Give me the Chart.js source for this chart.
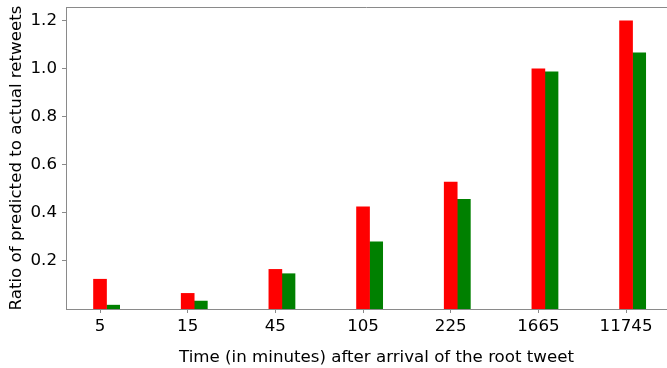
<!DOCTYPE html>
<html>
<head>
<meta charset="utf-8">
<script src="https://cdn.jsdelivr.net/npm/chart.js@4/dist/chart.umd.min.js"></script>
<style>
  html, body { margin: 0; padding: 0; background: #fff; }
  canvas { display: block; }
</style>
</head>
<body>
<canvas id="c" width="667" height="368"></canvas>
<script>
// Delay buckets (minutes after the root tweet)
const categories = ['5', '15', '45', '105', '225', '1665', '11745'];
// Ratio of predicted to actual retweets, two models
const redSeries = [0.124, 0.065, 0.165, 0.426, 0.529, 1.0, 1.2];
const greenSeries = [0.016, 0.033, 0.147, 0.280, 0.457, 0.988, 1.067];
const yTickValues = [0.2, 0.4, 0.6, 0.8, 1.0, 1.2];
const xTitle = 'Time (in minutes) after arrival of the root tweet';

const BAR_W = 0.15;          // bar width in category units
const SPINE = '#8a8a8a';
const FONT = "'DejaVu Sans', sans-serif";
const FONT_SIZE = 16.67;
// the axes run a little past the canvas' right edge
const AXES_OVERHANG = 20;

const frame = {
  id: 'frame',
  afterDraw(chart) {
    const { ctx, chartArea: a } = chart;
    ctx.save();
    // top spine
    ctx.strokeStyle = SPINE;
    ctx.lineWidth = 1;
    ctx.beginPath();
    ctx.moveTo(a.left, a.top + 0.5);
    ctx.lineTo(a.right, a.top + 0.5);
    ctx.stroke();
    // x axis title, centred on the full axes width
    ctx.fillStyle = '#000';
    ctx.font = FONT_SIZE + 'px ' + FONT;
    ctx.textAlign = 'center';
    ctx.textBaseline = 'middle';
    ctx.fillText(xTitle, (a.left + a.right + AXES_OVERHANG) / 2, chart.height - 10.5);
    ctx.restore();
  }
};

new Chart(document.getElementById('c'), {
  type: 'bar',
  data: {
    datasets: [
      {
        data: redSeries.map((v, i) => ({ x: i, y: v })),
        backgroundColor: '#ff0000',
        borderWidth: 0,
        grouped: false,
        barThickness: 13
      },
      {
        data: greenSeries.map((v, i) => ({ x: i + BAR_W, y: v })),
        backgroundColor: '#008000',
        borderWidth: 0,
        grouped: false,
        barThickness: 13
      }
    ]
  },
  options: {
    responsive: false,
    animation: false,
    layout: { padding: { top: 7, right: 0, left: 0, bottom: 0 } },
    plugins: { legend: { display: false }, tooltip: { enabled: false } },
    scales: {
      x: {
        type: 'linear',
        offset: false,
        min: -0.388,
        max: 6.467,
        afterFit(s) { s.height = 59; s.paddingLeft = 0; s.paddingRight = 0; },
        afterBuildTicks(s) { s.ticks = categories.map((c, i) => ({ value: i })); },
        grid: { offset: false, drawOnChartArea: false, drawTicks: true, tickLength: 4, tickColor: SPINE },
        border: { display: true, color: SPINE, width: 1 },
        ticks: {
          autoSkip: false,
          maxRotation: 0,
          padding: 4,
          color: '#000',
          font: { family: FONT, size: FONT_SIZE },
          callback: (v) => categories[v]
        },
        title: { display: false }
      },
      y: {
        min: 0,
        max: 1.258,
        afterFit(s) { s.width = 66; s.paddingTop = 0; s.paddingBottom = 0; },
        afterBuildTicks(s) { s.ticks = yTickValues.map(v => ({ value: v })); },
        grid: { drawOnChartArea: false, drawTicks: true, tickLength: 4, tickColor: SPINE },
        border: { display: true, color: SPINE, width: 1 },
        ticks: {
          padding: 5,
          color: '#000',
          font: { family: FONT, size: FONT_SIZE },
          callback: (v) => v.toFixed(1)
        },
        title: {
          display: true,
          text: 'Ratio of predicted to actual retweets',
          color: '#000',
          font: { family: FONT, size: FONT_SIZE },
          padding: { top: 6.5, bottom: 0 }
        }
      }
    }
  },
  plugins: [frame]
});
</script>
</body>
</html>
